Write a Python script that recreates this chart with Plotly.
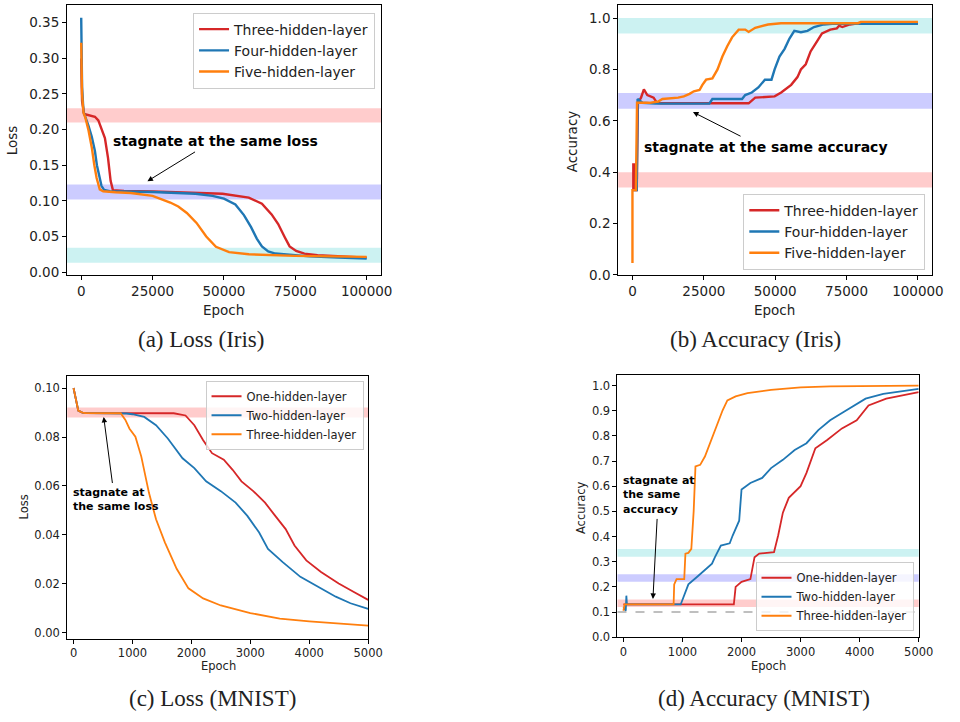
import plotly.graph_objects as go

# ---------------- DATA ----------------
RED, BLUE, ORANGE = "#d62728", "#1f77b4", "#ff7f0e"

# (a) Loss (Iris)
a_names = ["Three-hidden-layer", "Four-hidden-layer", "Five-hidden-layer"]
a_three_x = [0, 300, 1000, 2000, 4800, 6000, 8300, 9400, 10300, 11100, 15000, 25000, 40000, 49500, 58700,
             63300, 66700, 69000, 71300, 73000, 75300, 78200, 82800, 90800, 100000]
a_three_y = [0.300, 0.240, 0.222, 0.221, 0.218, 0.213, 0.188, 0.160, 0.128, 0.115, 0.1138, 0.1132, 0.1118, 0.110, 0.1045,
             0.096, 0.081, 0.0675, 0.049, 0.036, 0.0296, 0.0259, 0.0236, 0.0222, 0.0203]
a_four_x = [0, 300, 800, 1500, 2500, 3700, 4800, 5500, 6200, 7100, 8000, 10000, 25000, 40000, 46000, 50000, 54000,
            57000, 59500, 61500, 63300, 65500, 68000, 72000, 80000, 90000, 100000]
a_four_y = [0.357, 0.260, 0.225, 0.218, 0.206, 0.190, 0.170, 0.150, 0.135, 0.121, 0.1155, 0.1135, 0.1125, 0.110, 0.107,
            0.103, 0.095, 0.080, 0.063, 0.047, 0.036, 0.029, 0.026, 0.0245, 0.022, 0.0205, 0.019]
a_five_x = [0, 300, 800, 1500, 2500, 3700, 4600, 5400, 6500, 7700, 12000, 17400, 25000, 31200, 34000, 37000, 40400,
            43800, 47200, 51800, 58700, 74800, 100000]
a_five_y = [0.322, 0.250, 0.224, 0.216, 0.200, 0.175, 0.150, 0.132, 0.116, 0.1135, 0.112, 0.111, 0.107, 0.0976, 0.092,
            0.083, 0.069, 0.050, 0.0355, 0.028, 0.025, 0.0227, 0.0213]
a_bands = [(0.210, 0.230, "red"), (0.102, 0.123, "blue"), (0.013, 0.034, "cyan")]
a_xticks = [0, 25000, 50000, 75000, 100000]
a_yticks = [0.00, 0.05, 0.10, 0.15, 0.20, 0.25, 0.30, 0.35]

# (b) Accuracy (Iris)
b_three_x = [0, 300, 300, 700, 900, 1500, 1900, 3000, 4000, 5200, 7400, 8600, 10000, 40700, 43000, 49800, 52100,
             55600, 57800, 59000, 60700, 62400, 64700, 66400, 69300, 71600, 72400, 73500, 76200, 79600, 100000]
b_three_y = [0.33, 0.33, 0.43, 0.43, 0.33, 0.33, 0.67, 0.69, 0.722, 0.70, 0.69, 0.67, 0.668, 0.668, 0.69, 0.695, 0.71,
             0.74, 0.77, 0.80, 0.82, 0.87, 0.91, 0.94, 0.955, 0.96, 0.97, 0.965, 0.975, 0.98, 0.98]
b_four_x = [0, 1500, 1800, 2500, 3500, 8000, 26900, 28000, 38400, 39500, 41800, 44100, 46400, 48700, 49800, 51500,
            53300, 55000, 56700, 59000, 61300, 63600, 67000, 70000, 100000]
b_four_y = [0.33, 0.33, 0.685, 0.68, 0.67, 0.667, 0.667, 0.685, 0.685, 0.70, 0.71, 0.73, 0.76, 0.76, 0.80, 0.85,
            0.88, 0.92, 0.95, 0.945, 0.95, 0.965, 0.975, 0.978, 0.978]
b_five_x = [0, 0, 300, 1200, 1600, 6000, 9000, 10500, 16000, 18000, 20000, 21500, 23500, 24500, 25800, 28000, 29800,
            31500, 33200, 34900, 37200, 39500, 40700, 43000, 47500, 52000, 79000, 80000, 100000]
b_five_y = [0.046, 0.33, 0.33, 0.33, 0.67, 0.67, 0.675, 0.685, 0.69, 0.695, 0.705, 0.715, 0.72, 0.74, 0.76, 0.765,
            0.80, 0.85, 0.89, 0.925, 0.955, 0.955, 0.946, 0.962, 0.975, 0.98, 0.98, 0.985, 0.985]
b_bands = [(0.94, 1.00, "cyan"), (0.647, 0.708, "blue"), (0.34, 0.40, "red")]
b_xticks = [0, 25000, 50000, 75000, 100000]
b_yticks = [0.0, 0.2, 0.4, 0.6, 0.8, 1.0]

# (c) Loss (MNIST)
c_names = ["One-hidden-layer", "Two-hidden-layer", "Three-hidden-layer"]
c_one_x = [0, 40, 80, 150, 200, 1700, 1900, 2050, 2200, 2350, 2550, 2700, 2850, 3050, 3250, 3400, 3600, 3750, 3950,
           4200, 4500, 4750, 5000]
c_one_y = [0.100, 0.095, 0.0908, 0.0900, 0.0898, 0.0897, 0.0888, 0.0848, 0.0787, 0.0734, 0.0707, 0.0666, 0.0619,
           0.0579, 0.0532, 0.0485, 0.0424, 0.0357, 0.0296, 0.0249, 0.0202, 0.0168, 0.0135]
c_two_x = [0, 40, 80, 150, 200, 900, 1000, 1200, 1400, 1600, 1700, 1850, 2050, 2250, 2500, 2750, 2950, 3150, 3300,
           3550, 3850, 4150, 4450, 4700, 5000]
c_two_y = [0.100, 0.095, 0.0908, 0.0900, 0.0898, 0.0896, 0.0893, 0.0882, 0.0848, 0.0794, 0.0760, 0.0713, 0.0673,
           0.0619, 0.0579, 0.0532, 0.0478, 0.0410, 0.0343, 0.0289, 0.0229, 0.0188, 0.0148, 0.0121, 0.0098]
c_three_x = [0, 40, 80, 150, 200, 800, 880, 950, 1050, 1150, 1200, 1280, 1400, 1550, 1750, 1950, 2200, 2500, 3000,
             3500, 4000, 4500, 5000]
c_three_y = [0.100, 0.095, 0.0908, 0.0900, 0.0898, 0.0897, 0.0870, 0.0834, 0.0801, 0.0720, 0.0666, 0.0572, 0.0464,
             0.0370, 0.0262, 0.0182, 0.0141, 0.0112, 0.0081, 0.0058, 0.0047, 0.0038, 0.0030]
c_bands = [(0.088, 0.092, "red")]
c_xticks = [0, 1000, 2000, 3000, 4000, 5000]
c_yticks = [0.00, 0.02, 0.04, 0.06, 0.08, 0.10]

# (d) Accuracy (MNIST)
d_one_x = [0, 1870, 1900, 2000, 2150, 2220, 2300, 2550, 2620, 2700, 2800, 3000, 3100, 3250, 3450, 3700, 3950, 4150,
           4450, 4700, 5000]
d_one_y = [0.13, 0.13, 0.20, 0.22, 0.231, 0.318, 0.332, 0.338, 0.404, 0.495, 0.554, 0.600, 0.653, 0.751, 0.784,
           0.830, 0.862, 0.921, 0.948, 0.961, 0.974]
d_two_x = [0, 40, 50, 60, 970, 1020, 1100, 1250, 1350, 1500, 1550, 1650, 1800, 1850, 1960, 2000, 2150, 2350, 2500,
           2700, 2900, 3100, 3300, 3500, 3700, 3900, 4100, 4400, 4700, 5000]
d_two_y = [0.12, 0.105, 0.165, 0.13, 0.13, 0.161, 0.21, 0.24, 0.26, 0.292, 0.318, 0.364, 0.373, 0.404, 0.463, 0.587,
           0.613, 0.633, 0.672, 0.705, 0.744, 0.771, 0.823, 0.862, 0.891, 0.921, 0.948, 0.967, 0.978, 0.987]
d_three_x = [0, 20, 850, 860, 900, 1030, 1050, 1100, 1150, 1190, 1220, 1300, 1380, 1480, 1580, 1680, 1760, 1900,
             2100, 2500, 3000, 3500, 5000]
d_three_y = [0.105, 0.13, 0.13, 0.21, 0.231, 0.231, 0.332, 0.335, 0.351, 0.502, 0.679, 0.685, 0.718, 0.777, 0.839,
             0.902, 0.941, 0.957, 0.970, 0.983, 0.993, 0.997, 1.0]
d_bands = [(0.32, 0.35, "cyan"), (0.22, 0.25, "blue"), (0.12, 0.15, "red")]
d_chance = 0.1
d_xticks = [0, 1000, 2000, 3000, 4000, 5000]
d_yticks = [0.0, 0.1, 0.2, 0.3, 0.4, 0.5, 0.6, 0.7, 0.8, 0.9, 1.0]

captions = ["(a) Loss (Iris)", "(b) Accuracy (Iris)", "(c) Loss (MNIST)", "(d) Accuracy (MNIST)"]

# ---------------- FIGURE ----------------
W, H = 960, 722
BAND = {"red": "rgba(255,0,0,0.2)", "blue": "rgba(0,0,255,0.2)", "cyan": "rgba(0,191,191,0.2)"}
SANS = "DejaVu Sans"

def px_x(p):
    return p / W

def px_y(p):
    return 1 - p / H

fig = go.Figure()

panels = [
    dict(ax="", dom=([68, 387], [5, 278]), xr=[-5000, 105000], yr=[-0.004, 0.375], xt=a_xticks, yt=a_yticks, yf="{:.2f}",
         series=[(a_three_x, a_three_y, RED, a_names[0]), (a_four_x, a_four_y, BLUE, a_names[1]),
                 (a_five_x, a_five_y, ORANGE, a_names[2])], bands=a_bands, lw=2.4, fs=13.5, leg="legend"),
    dict(ax="2", dom=([628, 947], [5, 278]), xr=[-5000, 105000], yr=[0, 1.051], xt=b_xticks, yt=b_yticks, yf="{:.1f}",
         series=[(b_three_x, b_three_y, RED, a_names[0]), (b_four_x, b_four_y, BLUE, a_names[1]),
                 (b_five_x, b_five_y, ORANGE, a_names[2])], bands=b_bands, lw=2.4, fs=13.5, leg="legend2"),
    dict(ax="3", dom=([68.3, 374], [380, 645.7]), xr=[-107, 5000], yr=[-0.0023, 0.105], xt=c_xticks, yt=c_yticks,
         yf="{:.2f}",
         series=[(c_one_x, c_one_y, RED, c_names[0]), (c_two_x, c_two_y, BLUE, c_names[1]),
                 (c_three_x, c_three_y, ORANGE, c_names[2])], bands=c_bands, lw=1.8, fs=11.5, leg="legend3"),
    dict(ax="4", dom=([627.3, 933.3], [379, 644.3]), xr=[-100, 5000], yr=[0, 1.043], xt=d_xticks, yt=d_yticks,
         yf="{:.1f}",
         series=[(d_one_x, d_one_y, RED, c_names[0]), (d_two_x, d_two_y, BLUE, c_names[1]),
                 (d_three_x, d_three_y, ORANGE, c_names[2])], bands=d_bands, lw=1.8, fs=11.5, leg="legend4"),
]

layout_axes = {}
for p in panels:
    k = p["ax"]
    (x0, x1), (y0, y1) = p["dom"]
    common = dict(showline=True, mirror=True, linecolor="black", linewidth=1, ticks="outside", ticklen=4,
                  tickwidth=1, tickcolor="black", showgrid=False, zeroline=False,
                  tickfont=dict(family=SANS, size=p["fs"], color="#222"))
    layout_axes["xaxis" + k] = dict(domain=[px_x(x0), px_x(x1)], range=p["xr"], anchor="y" + k,
                                    tickvals=p["xt"], ticktext=[str(v) for v in p["xt"]], **common)
    layout_axes["yaxis" + k] = dict(domain=[px_y(y1), px_y(y0)], range=p["yr"], anchor="x" + k,
                                    tickvals=p["yt"], ticktext=[p["yf"].format(v) for v in p["yt"]], **common)
    for xs, ys, col, name in p["series"]:
        fig.add_trace(go.Scatter(x=xs, y=ys, mode="lines", name=name, line=dict(color=col, width=p["lw"]),
                                 xaxis="x" + k, yaxis="y" + k, legend=p["leg"]))
    for lo, hi, c in p["bands"]:
        fig.add_shape(type="rect", xref=("x" + k + " domain") if k else "x domain", yref="y" + k,
                      x0=0, x1=1, y0=lo, y1=hi, fillcolor=BAND[c], line=dict(width=0), layer="below")

fig.add_shape(type="line", xref="x4 domain", yref="y4", x0=0, x1=1, y0=d_chance, y1=d_chance,
              line=dict(color="rgba(140,140,140,0.75)", width=1.5, dash="dash"), layer="below")

fig.update_layout(**layout_axes)

leg_common = dict(bgcolor="rgba(255,255,255,0.8)", bordercolor="#cccccc", borderwidth=1, tracegroupgap=0,
                  itemwidth=30)
fig.update_layout(
    width=W, height=H, margin=dict(l=0, r=0, t=0, b=0),
    plot_bgcolor="white", paper_bgcolor="white", showlegend=True,
    legend=dict(x=px_x(381), y=px_y(12.7), xanchor="right", yanchor="top",
                font=dict(family=SANS, size=14, color="#222"), **leg_common),
    legend2=dict(x=px_x(940), y=px_y(272.7), xanchor="right", yanchor="bottom",
                 font=dict(family=SANS, size=14, color="#222"), **leg_common),
    legend3=dict(x=px_x(369.3), y=px_y(385), xanchor="right", yanchor="top",
                 font=dict(family=SANS, size=11.5, color="#222"), **leg_common),
    legend4=dict(x=px_x(928), y=px_y(638.3), xanchor="right", yanchor="bottom",
                 font=dict(family=SANS, size=11.5, color="#222"), **leg_common),
)

ann = []
# axis titles
def label(text, x, y, size, angle=0):
    ann.append(dict(text=text, x=px_x(x), y=px_y(y), xref="paper", yref="paper", showarrow=False,
                    textangle=angle, font=dict(family=SANS, size=size, color="#222"),
                    xanchor="center", yanchor="middle"))

label("Loss", 13, 142, 13.5, -90)
label("Epoch", 227.5, 313, 13.5)
label("Accuracy", 581.5, 142.5, 13.5, -90)
label("Epoch", 786.7, 313, 13.5)
label("Loss", 24.5, 513, 11.5, -90)
label("Epoch", 221.7, 673, 11.5)
label("Accuracy", 591, 513, 11.5, -90)
label("Epoch", 780.5, 673, 11.5)

# captions
for text, cx, cy in zip(captions, [204.5, 767, 216, 776], [343, 343, 706, 706]):
    ann.append(dict(text=text, x=px_x(cx), y=px_y(cy), xref="paper", yref="paper", showarrow=False,
                    font=dict(family="Liberation Serif", size=23, color="#222"), xanchor="center",
                    yanchor="middle"))

# arrows
def arrow(k, tail, head):
    ann.append(dict(text="", x=head[0], y=head[1], ax=tail[0], ay=tail[1], xref="x" + k, yref="y" + k,
                    axref="x" + k, ayref="y" + k, showarrow=True, arrowhead=2, arrowsize=1.1,
                    arrowwidth=1, arrowcolor="black"))

arrow("", (40400, 0.170), (23200, 0.1276))
arrow("2", (38400, 0.537), (21200, 0.634))
arrow("3", (663, 0.0606), (512, 0.0882))
arrow("4", (572, 0.476), (500, 0.152))

def note(k, text, x, y, size):
    ann.append(dict(text="<b>" + text + "</b>", x=x, y=y, xref="x" + k, yref="y" + k, showarrow=False,
                    xanchor="left", yanchor="middle", align="left",
                    font=dict(family=SANS, size=size, color="black")))

note("", "stagnate at the same loss", 10530, 0.1845, 14)
note("2", "stagnate at the same accuracy", 3440, 0.499, 14)
note("3", "stagnate at<br>the same loss", -40, (640 - 505.3) / 2477, 11)
note("4", "stagnate at<br>the same<br>accuracy", -45, (644.3 - 500.5) / 254.3, 11)

fig.update_layout(annotations=ann)
fig.write_html("out.html")
